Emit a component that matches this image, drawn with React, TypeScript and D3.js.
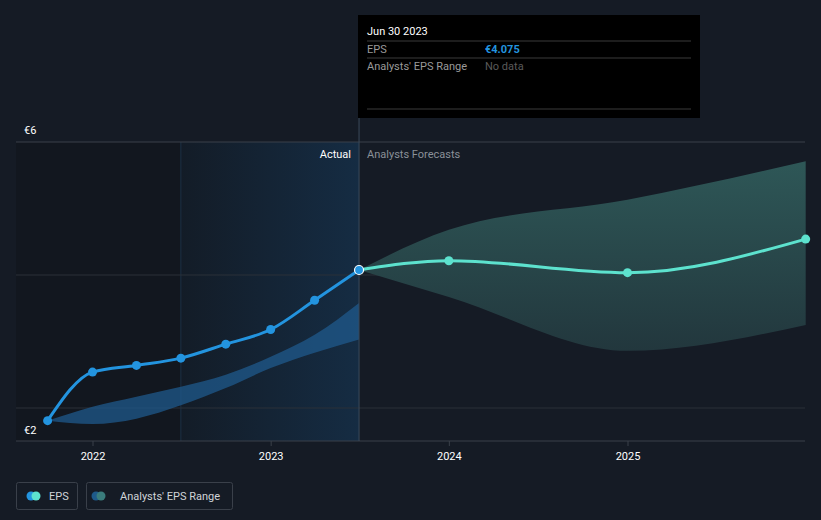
import React from "react";
import * as d3 from "d3";

const W = 821;
const H = 520;

const actualDates = ["2021-09-30", "2021-12-31", "2022-03-31", "2022-06-30", "2022-09-30", "2022-12-31", "2023-03-31", "2023-06-30"];
const actualEps = [1.81, 2.54, 2.64, 2.75, 2.96, 3.18, 3.62, 4.075];
const pastRangeHigh = [1.81, 2.02, 2.17, 2.32, 2.5, 2.77, 3.1, 3.58];
const pastRangeLow = [1.81, 1.76, 1.84, 2.04, 2.3, 2.6, 2.83, 3.03];

const forecastDates = ["2023-06-30", "2023-12-31", "2024-12-31", "2025-12-31"];
const forecastEps = [4.075, 4.215, 4.035, 4.54];
const forecastHigh = [4.075, 4.68, 5.13, 5.71];
const forecastLow = [4.075, 3.67, 2.86, 3.25];

const xTicks = ["2022", "2023", "2024", "2025"];

const parse = d3.timeParse("%Y-%m-%d");

export default function App() {
  const x = d3.scaleTime()
    .domain([parse("2022-01-01")!, parse("2025-01-01")!])
    .range([93, 628]);
  const y = d3.scaleLinear().domain([2, 6]).range([408, 142]);

  const left = 16;
  const right = 805;
  const bottom = 441;
  const top = 142;
  const splitX = x(parse("2023-06-30")!);
  const shadeX = x(parse("2022-06-30")!);

  const actual = actualDates.map((d, i) => ({ d: parse(d)!, v: actualEps[i], hi: pastRangeHigh[i], lo: pastRangeLow[i] }));
  const fc = forecastDates.map((d, i) => ({ d: parse(d)!, v: forecastEps[i], hi: forecastHigh[i], lo: forecastLow[i] }));

  const line = d3.line<any>().x((p) => x(p.d)).y((p) => y(p.v)).curve(d3.curveMonotoneX);
  const area = d3.area<any>().x((p) => x(p.d)).y0((p) => y(p.lo)).y1((p) => y(p.hi)).curve(d3.curveMonotoneX);

  const font = "Roboto, 'Noto Sans', sans-serif";

  return (
    <svg width={W} height={H} style={{ position: "absolute", left: 0, top: 0, background: "#151b25", fontFamily: font }}>
      <defs>
        <linearGradient id="actualShade" x1="0" x2="1" y1="0" y2="0">
          <stop offset="0" stopColor="#131c27" />
          <stop offset="1" stopColor="#152c43" />
        </linearGradient>
        <linearGradient id="fcBand" x1="0" x2="0" y1="0" y2="1">
          <stop offset="0" stopColor="#2e5757" />
          <stop offset="1" stopColor="#22373d" />
        </linearGradient>
      </defs>
      <rect x={0} y={0} width={W} height={H} fill="#151b25" />
      {/* darker past region */}
      <rect x={left} y={top} width={shadeX - left} height={bottom - top} fill="#12171f" />
      {/* actual highlight */}
      <rect x={shadeX} y={top} width={splitX - shadeX} height={bottom - top} fill="url(#actualShade)" />
      <line x1={shadeX} x2={shadeX} y1={top} y2={bottom} stroke="#1c3146" strokeWidth={1} />

      {/* gridlines */}
      {[6, 4, 2].map((v) => (
        <line key={v} x1={left} x2={right} y1={y(v)} y2={y(v)} stroke={v === 6 ? "#3a404a" : "#2a3039"} strokeWidth={1} />
      ))}
      <line x1={left} x2={right} y1={bottom} y2={bottom} stroke="#3a404a" strokeWidth={1} />

      <text x={24} y={134} fill="#ffffff" fontSize={11}>€6</text>
      <text x={24} y={434} fill="#ffffff" fontSize={11}>€2</text>

      {/* x ticks */}
      {xTicks.map((t) => {
        const xx = x(parse(`${t}-01-01`)!);
        return (
          <g key={t}>
            <line x1={xx} x2={xx} y1={bottom} y2={bottom + 5} stroke="#3a404a" />
            <text x={xx} y={460} fill="#ffffff" fontSize={11} textAnchor="middle">{t}</text>
          </g>
        );
      })}

      {/* bands */}
      <path d={area(actual) || ""} fill="#1f5a8c" opacity={0.75} />
      <path d={area(fc) || ""} fill="url(#fcBand)" />

      {/* vertical split */}
      <line x1={splitX} x2={splitX} y1={117} y2={bottom} stroke="#3a4a5a" strokeWidth={1} />

      <text x={splitX - 8} y={158} fill="#ffffff" fontSize={11} textAnchor="end">Actual</text>
      <text x={splitX + 8} y={158} fill="#8a9098" fontSize={11}>Analysts Forecasts</text>

      {/* lines */}
      <path d={line(fc) || ""} fill="none" stroke="#5de2ce" strokeWidth={3} />
      <path d={line(actual) || ""} fill="none" stroke="#2394df" strokeWidth={3} />
      {fc.slice(1).map((p, i) => (
        <circle key={i} cx={x(p.d)} cy={y(p.v)} r={4.5} fill="#5de2ce" />
      ))}
      {actual.slice(0, -1).map((p, i) => (
        <circle key={i} cx={x(p.d)} cy={y(p.v)} r={4.5} fill="#2394df" />
      ))}
      <circle cx={splitX} cy={y(actualEps[actualEps.length - 1])} r={4.5} fill="#2394df" stroke="#ffffff" strokeWidth={1.2} />

      {/* tooltip */}
      <rect x={358} y={15} width={342} height={103} fill="#000000" />
      <text x={367} y={35} fill="#ffffff" fontSize={11}>Jun 30 2023</text>
      <line x1={367} x2={691} y1={41} y2={41} stroke="#3a3a3a" />
      <text x={367} y={53} fill="#9a9a9a" fontSize={11}>EPS</text>
      <text x={485} y={53} fill="#2394df" fontSize={11} fontWeight="bold">€4.075</text>
      <line x1={367} x2={691} y1={58} y2={58} stroke="#3a3a3a" />
      <text x={367} y={70} fill="#9a9a9a" fontSize={11}>Analysts' EPS Range</text>
      <text x={485} y={70} fill="#5a5a5a" fontSize={11}>No data</text>
      <line x1={367} x2={691} y1={109} y2={109} stroke="#3a3a3a" />

      {/* legend */}
      <rect x={16.5} y={482.5} width={61} height={27} rx={2} fill="none" stroke="#3a404a" />
      <circle cx={31} cy={496} r={4.5} fill="#2394df" />
      <circle cx={36} cy={496} r={4.5} fill="#5de2ce" />
      <text x={49} y={500} fill="#d0d4d8" fontSize={11}>EPS</text>
      <rect x={86.5} y={482.5} width={146} height={27} rx={2} fill="none" stroke="#3a404a" />
      <circle cx={96} cy={496} r={4.5} fill="#1e5a8a" />
      <circle cx={101} cy={496} r={4.5} fill="#3a7c7c" />
      <text x={120} y={500} fill="#d0d4d8" fontSize={11}>Analysts' EPS Range</text>
    </svg>
  );
}
